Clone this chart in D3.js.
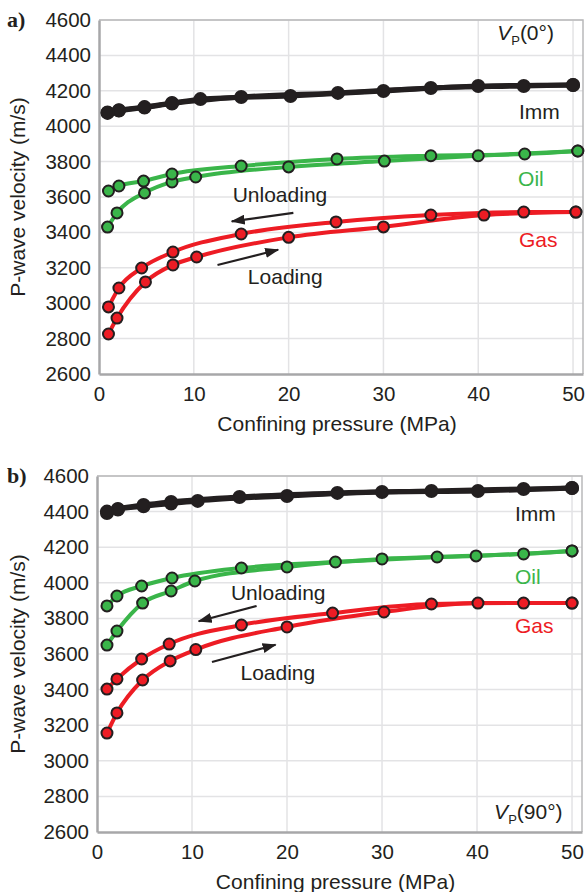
<!DOCTYPE html>
<html><head><meta charset="utf-8">
<script src="https://cdn.jsdelivr.net/npm/d3@7"></script>
<style>body{margin:0;background:#fff}svg{display:block}text{font-family:"Liberation Sans",Arial,sans-serif;fill:#231f20}</style>
</head><body>
<svg id="c" width="586" height="892"></svg>
<script>
// ---------- data ----------
const xTicks = [0, 10, 20, 30, 40, 50];
const yTicks = [2600, 2800, 3000, 3200, 3400, 3600, 3800, 4000, 4200, 4400, 4600];

// Panel a: VP(0°)
const a_imm_load_p = [0.9, 2.1, 4.8, 7.7, 10.7, 20.2, 30, 40, 50];
const a_imm_load_v = [4075, 4090, 4108, 4131, 4153, 4171, 4199, 4227, 4233];
const a_imm_unload_p = [50, 44.8, 35, 25.2, 15, 7.7, 4.8, 2.1, 0.9];
const a_imm_unload_v = [4233, 4227, 4216, 4188, 4165, 4128, 4105, 4088, 4078];
const a_oil_load_p = [0.9, 1.9, 4.8, 7.7, 10.2, 20, 30.1, 40, 50.5];
const a_oil_load_v = [3430, 3510, 3623, 3685, 3713, 3770, 3803, 3833, 3860];
const a_oil_unload_p = [50.5, 44.9, 35, 25.1, 15, 7.7, 4.7, 2.1, 1.0];
const a_oil_unload_v = [3860, 3843, 3833, 3815, 3775, 3730, 3690, 3662, 3634];
const a_gas_load_p = [1, 1.9, 4.9, 7.8, 10.3, 20, 30, 40.6, 50.3];
const a_gas_load_v = [2826, 2916, 3120, 3216, 3261, 3372, 3431, 3498, 3515];
const a_gas_unload_p = [50.3, 44.8, 35, 25, 15, 7.8, 4.5, 2.1, 1];
const a_gas_unload_v = [3515, 3515, 3498, 3459, 3391, 3289, 3199, 3086, 2979];

// Panel b: VP(90°)
const b_imm_load_p = [1.05, 2.2, 4.9, 7.8, 10.6, 20, 30, 40.1, 50];
const b_imm_load_v = [4392, 4412, 4430, 4445, 4460, 4488, 4510, 4516, 4533];
const b_imm_unload_p = [50, 44.9, 35.2, 25.3, 15, 7.8, 4.9, 2.2, 1.05];
const b_imm_unload_v = [4533, 4527, 4516, 4505, 4482, 4454, 4437, 4415, 4400];
const b_oil_load_p = [1.05, 2.1, 4.8, 7.8, 10.3, 20, 30, 39.9, 50];
const b_oil_load_v = [3650, 3729, 3886, 3954, 4010, 4089, 4134, 4151, 4179];
const b_oil_unload_p = [50, 44.9, 35.8, 25.1, 15.2, 7.9, 4.7, 2.1, 1.05];
const b_oil_unload_v = [4179, 4162, 4145, 4117, 4083, 4027, 3982, 3926, 3870];
const b_gas_load_p = [1.05, 2.1, 4.8, 7.7, 10.4, 20, 30.2, 40.1, 50];
const b_gas_load_v = [3156, 3269, 3454, 3561, 3625, 3752, 3836, 3886, 3886];
const b_gas_unload_p = [50, 44.9, 35.2, 24.8, 15.2, 7.6, 4.7, 2.1, 1.05];
const b_gas_unload_v = [3886, 3886, 3881, 3830, 3763, 3656, 3572, 3460, 3403];

const colors = {imm: "#231f20", oil: "#3ab54a", gas: "#ed1c24"};

// ---------- drawing ----------
const svg = d3.select("#c");
svg.append("defs").append("marker")
  .attr("id", "ah").attr("markerUnits", "userSpaceOnUse")
  .attr("viewBox", "0 0 14 10").attr("refX", 13).attr("refY", 5)
  .attr("markerWidth", 14).attr("markerHeight", 10).attr("orient", "auto")
  .append("path").attr("d", "M0,0 L14,5 L0,10 Z").attr("fill", "#231f20");

function panel(cfg) {
  const x = d3.scaleLinear().domain([0, 51.05]).range([cfg.left, cfg.right]);
  const y = d3.scaleLinear().domain([2600, 4600]).range([cfg.bottom, cfg.top]);
  const g = svg.append("g");

  // grid
  g.selectAll(".gx").data(xTicks.slice(1)).enter().append("line")
    .attr("x1", d => x(d)).attr("x2", d => x(d)).attr("y1", cfg.top).attr("y2", cfg.bottom)
    .attr("stroke", "#e3e3e5").attr("stroke-width", 1.5);
  g.selectAll(".gy").data(yTicks.slice(1)).enter().append("line")
    .attr("y1", d => y(d)).attr("y2", d => y(d)).attr("x1", cfg.left).attr("x2", cfg.right)
    .attr("stroke", "#e3e3e5").attr("stroke-width", 1.5);
  // frame top/right
  g.append("path").attr("d", `M${cfg.left},${cfg.top}H${cfg.right}V${cfg.bottom}`)
    .attr("fill", "none").attr("stroke", "#b9b9bb").attr("stroke-width", 1.5);

  // axes
  const xa = g.append("g").attr("transform", `translate(0,${cfg.bottom})`)
    .call(d3.axisBottom(x).tickValues(xTicks).tickSize(0).tickPadding(12));
  const ya = g.append("g").attr("transform", `translate(${cfg.left},0)`)
    .call(d3.axisLeft(y).tickValues(yTicks).tickSize(0).tickPadding(8).tickFormat(d3.format("d")));
  [xa, ya].forEach(a => {
    a.select(".domain").attr("stroke", "#a7a7a9").attr("stroke-width", 2.5);
    a.selectAll("text").attr("font-size", 20.5).attr("fill", "#231f20")
      .attr("font-family", "'Liberation Sans', Arial, sans-serif");
  });
  xa.selectAll("text").attr("dy", "0.71em");

  g.append("text").attr("x", (cfg.left + cfg.right) / 2 - 4).attr("y", cfg.bottom + 57)
    .attr("text-anchor", "middle").attr("font-size", 21).text("Confining pressure (MPa)");
  g.append("text").attr("transform", `translate(25,${(cfg.top + cfg.bottom) / 2}) rotate(-90)`)
    .attr("text-anchor", "middle").attr("font-size", 21).text("P-wave velocity (m/s)");
  g.append("text").attr("x", 7).attr("y", cfg.top + 7).attr("font-size", 22)
    .attr("font-weight", "bold").style("font-family", "'Liberation Serif', 'Times New Roman', serif")
    .text(cfg.tag);

  const line = d3.line().x(d => x(d[0])).y(d => y(d[1])).curve(d3.curveMonotoneX);
  const series = cfg.series;
  // lines
  series.forEach(s => {
    const pts = s.p.map((p, i) => [p, s.v[i]]).sort((a, b) => a[0] - b[0]);
    g.append("path").datum(pts).attr("d", line).attr("fill", "none")
      .attr("stroke", colors[s.k]).attr("stroke-width", s.k === "imm" ? 5 : 4)
      .attr("stroke-linejoin", "round");
  });
  // points
  series.forEach(s => {
    const pts = s.p.map((p, i) => [p, s.v[i]]);
    g.selectAll(null).data(pts).enter().append("circle")
      .attr("cx", d => x(d[0])).attr("cy", d => y(d[1]))
      .attr("r", s.k === "imm" ? 6 : 5.5)
      .attr("fill", colors[s.k]).attr("stroke", "#231f20").attr("stroke-width", 2);
  });

  // annotations
  const A = cfg.ann;
  const arrow = (a) => g.append("line")
    .attr("x1", x(a[0])).attr("y1", y(a[1])).attr("x2", x(a[2])).attr("y2", y(a[3]))
    .attr("stroke", "#231f20").attr("stroke-width", 2.2).attr("marker-end", "url(#ah)");
  arrow(A.unArrow);
  arrow(A.loArrow);
  const txt = (pos, s, col) => g.append("text").attr("x", x(pos[0])).attr("y", y(pos[1]))
    .attr("font-size", 21).attr("fill", col || "#231f20").style("fill", col || "#231f20").text(s);
  txt(A.un, "Unloading");
  txt(A.lo, "Loading");
  txt(A.imm, "Imm");
  txt(A.oil, "Oil", colors.oil);
  txt(A.gas, "Gas", colors.gas);
  const vp = g.append("text").attr("x", x(A.vp[0])).attr("y", y(A.vp[1])).attr("font-size", 21);
  vp.append("tspan").attr("font-style", "italic").text("V");
  vp.append("tspan").attr("font-size", 13).attr("dy", 5).text("P");
  vp.append("tspan").attr("dy", -5).text(cfg.angle);
}

panel({
  tag: "a)", angle: "(0°)", left: 99, right: 583, top: 20, bottom: 374,
  series: [
    {k: "gas", p: a_gas_load_p, v: a_gas_load_v}, {k: "gas", p: a_gas_unload_p, v: a_gas_unload_v},
    {k: "oil", p: a_oil_load_p, v: a_oil_load_v}, {k: "oil", p: a_oil_unload_p, v: a_oil_unload_v},
    {k: "imm", p: a_imm_load_p, v: a_imm_load_v}, {k: "imm", p: a_imm_unload_p, v: a_imm_unload_v}
  ],
  ann: {
    un: [14.1, 3572], unArrow: [20.5, 3510, 14.0, 3462],
    lo: [15.7, 3108], loArrow: [12.5, 3216, 18.9, 3302],
    imm: [44.3, 4041], oil: [44.2, 3662], gas: [44.3, 3318], vp: [42, 4487]
  }
});

panel({
  tag: "b)", angle: "(90°)", left: 97, right: 582, top: 476, bottom: 832,
  series: [
    {k: "gas", p: b_gas_load_p, v: b_gas_load_v}, {k: "gas", p: b_gas_unload_p, v: b_gas_unload_v},
    {k: "oil", p: b_oil_load_p, v: b_oil_load_v}, {k: "oil", p: b_oil_unload_p, v: b_oil_unload_v},
    {k: "imm", p: b_imm_load_p, v: b_imm_load_v}, {k: "imm", p: b_imm_unload_p, v: b_imm_unload_v}
  ],
  ann: {
    un: [14.1, 3903], unArrow: [16.8, 3870, 10.7, 3784],
    lo: [15.1, 3454], loArrow: [12.1, 3555, 18.8, 3652],
    imm: [44, 4347], oil: [44, 3993], gas: [44, 3718], vp: [41.8, 2673]
  }
});
</script>
</body></html>
